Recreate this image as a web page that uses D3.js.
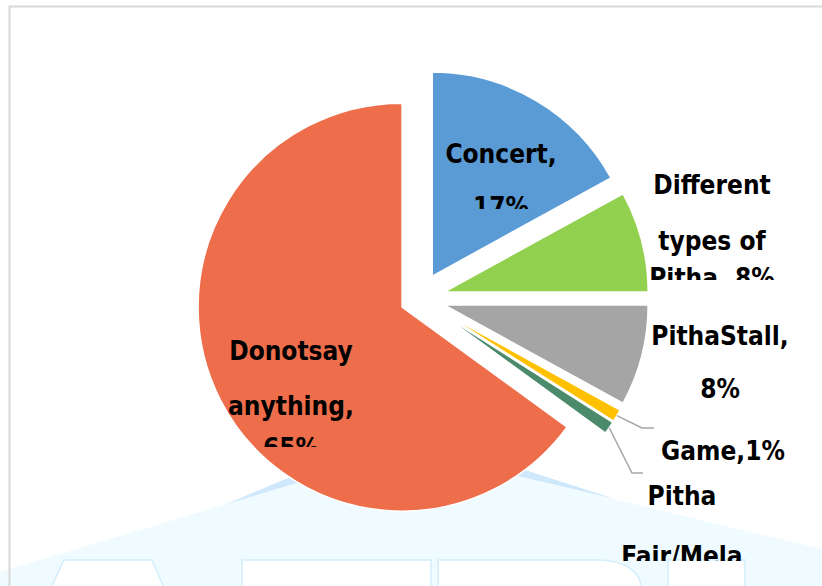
<!DOCTYPE html>
<html>
<head>
<meta charset="utf-8">
<script src="https://cdn.jsdelivr.net/npm/d3@7"></script>
<style>
  body { margin: 0; background: #fff; }
  text { font-family: "DejaVu Sans Condensed", "DejaVu Sans", sans-serif; font-weight: bold; }
</style>
</head>
<body>
<div id="chart-area"></div>
<script>
// data
const categories = ["Concert", "Different types of Pitha", "PithaStall", "Game", "Pitha Fair/Mela", "Donotsay anything"];
const values = [17, 8, 8, 1, 1, 65];
const labelLines = [
    ["Concert,", "17%"],
    ["Different", "types of", "Pitha, 8%"],
    ["PithaStall,", "8%"],
    ["Game,1%"],
    ["Pitha", "Fair/Mela"],
    ["Donotsay", "anything,", "65%"]
];
const colors = ["#5B9BD5", "#92D050", "#A5A5A5", "#FFC000", "#4B8A6B", "#EE6E4B"];

const width = 822, height = 586;
const cx = 419, cy = 298.5, radius = 204;
const explode = [26, 26, 26, 26, 26, 19];

// where each label box sits (centre x, line baselines, clip bottom)
const labelPos = [
    { x: 501, ys: [163, 216], clip: 209 },
    { x: 712, ys: [194, 250, 287], clip: 280 },
    { x: 720, ys: [345, 398], clip: 420 },
    { x: 723, ys: [460], clip: 480 },
    { x: 682, ys: [505, 565], clip: 561 },
    { x: 291, ys: [360, 415, 457], clip: 447 }
];
// leader lines: elbow and end, start comes from the slice
const leaders = { 3: [[642, 428], [654, 428]], 4: [[632, 473], [643, 473]] };

const svg = d3.select("#chart-area")
    .append("svg")
        .attr("width", width)
        .attr("height", height);

// watermark behind the chart
const wm = svg.append("g");
wm.append("polygon")
    .attr("points", "0,572 407,450 822,549 822,586 0,586")
    .attr("fill", "#effbff");
wm.append("polygon")
    .attr("points", "225,504.5 407,428 407,450")
    .attr("fill", "#cfe8fb");
wm.append("polygon")
    .attr("points", "615,499 407,432 407,450")
    .attr("fill", "#cfe8fb");
const letterStyle = (sel) => sel.attr("fill", "#fff").attr("stroke", "#d4eefb").attr("stroke-width", 1.5);
wm.append("path").attr("d", "M64,560 L152,560 L165,590 L50,590 Z").call(letterStyle);
wm.append("path").attr("d", "M242,560 L431,560 L431,590 L242,590 Z").call(letterStyle);
wm.append("path").attr("d", "M438,560 L600,560 Q640,562 642,590 L438,590 Z").call(letterStyle);
wm.append("path").attr("d", "M668,560 L745,560 L745,590 L668,590 Z").call(letterStyle);

// frame
svg.append("path")
    .attr("d", `M9.5,${height} L9.5,6.5 L${width},6.5`)
    .attr("fill", "none")
    .attr("stroke", "#d9d9d9")
    .attr("stroke-width", 2);

const pie = d3.pie().sort(null).value((d) => d);
const arcs = pie(values);
const arc = d3.arc().innerRadius(0).outerRadius(radius);
const outerArc = d3.arc().innerRadius(radius).outerRadius(radius);

const offset = (d, i) => {
    const a = (d.startAngle + d.endAngle) / 2;
    return [Math.sin(a) * explode[i], -Math.cos(a) * explode[i]];
};

const pieG = svg.append("g").attr("transform", `translate(${cx},${cy})`);

pieG.selectAll("path.slice")
    .data(arcs)
    .enter()
    .append("path")
        .attr("class", "slice")
        .attr("d", arc)
        .attr("transform", (d, i) => {
            const o = offset(d, i);
            return `translate(${o[0]},${o[1]})`;
        })
        .attr("fill", (d, i) => colors[i])
        .attr("stroke", "#fff")
        .attr("stroke-width", 1.5);

// leader lines
Object.keys(leaders).forEach((k) => {
    const i = +k;
    const d = arcs[i];
    const o = offset(d, i);
    const p = outerArc.centroid(d);
    const start = [cx + p[0] + o[0], cy + p[1] + o[1]];
    svg.append("polyline")
        .attr("points", [start].concat(leaders[i]).map((q) => q.join(",")).join(" "))
        .attr("fill", "none")
        .attr("stroke", "#a6a6a6")
        .attr("stroke-width", 1.5);
});

// labels, clipped like the chart's label boxes
const defs = svg.append("defs");
labelLines.forEach((lines, i) => {
    const pos = labelPos[i];
    defs.append("clipPath")
        .attr("id", "clip" + i)
        .append("rect")
            .attr("x", 0)
            .attr("y", 0)
            .attr("width", width)
            .attr("height", pos.clip);
    const t = svg.append("text")
        .attr("clip-path", `url(#clip${i})`)
        .attr("text-anchor", "middle")
        .attr("font-size", 26)
        .attr("fill", "#000");
    t.selectAll("tspan")
        .data(lines)
        .enter()
        .append("tspan")
            .attr("x", pos.x)
            .attr("y", (d, j) => pos.ys[j])
            .text((d) => d);
});
</script>
</body>
</html>
